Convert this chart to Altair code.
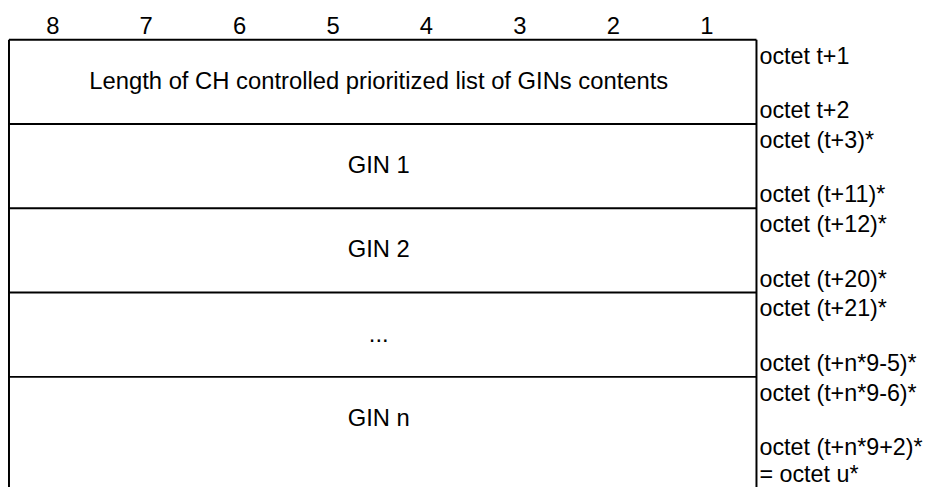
import altair as alt
import pandas as pd

# ---- content ----
bit_labels = ["8", "7", "6", "5", "4", "3", "2", "1"]
field_labels = [
    "Length of CH controlled prioritized list of GINs contents",
    "GIN 1",
    "GIN 2",
    "...",
    "GIN n",
]
octet_labels = [
    ["octet t+1", "octet t+2"],
    ["octet (t+3)*", "octet (t+11)*"],
    ["octet (t+12)*", "octet (t+20)*"],
    ["octet (t+21)*", "octet (t+n*9-5)*"],
    ["octet (t+n*9-6)*", "octet (t+n*9+2)*", "= octet u*"],
]

# ---- layout helpers ----
n_bits = len(bit_labels)
n_rows = len(field_labels)
sub_offsets = [0.2, 0.847, 1.165]   # vertical place of octet labels within a row
FONT = "Liberation Sans"
FS = 24.0
FS_OCT = 23.5

bits_df = pd.DataFrame({"x": [i + 0.5 for i in range(n_bits)], "y": [-0.153] * n_bits, "label": bit_labels})
fields_df = pd.DataFrame({"x": [n_bits / 2] * n_rows, "y": [r + 0.5 for r in range(n_rows)], "label": field_labels})
oct_rows = []
for r, labs in enumerate(octet_labels):
    for k, lab in enumerate(labs):
        oct_rows.append({"x": n_bits, "y": r + sub_offsets[k], "label": lab})
oct_df = pd.DataFrame(oct_rows)
h_df = pd.DataFrame({"x": [0] * n_rows, "x2": [n_bits] * n_rows, "y": list(range(n_rows))})
v_df = pd.DataFrame({"x": [0, n_bits], "y": [0, 0], "y2": [n_rows + 0.35, n_rows + 0.35]})

xs = alt.Scale(domain=[0, n_bits], range=[1, 755])
ys = alt.Scale(domain=[0, n_rows], range=[30, 30 + 85 * n_rows])

X = lambda f="x": alt.X(f"{f}:Q", scale=xs, axis=None)
Y = lambda f="y": alt.Y(f"{f}:Q", scale=ys, axis=None)

hlines = alt.Chart(h_df).mark_rule(color="black", strokeWidth=2).encode(
    x=X(), x2="x2:Q", y=Y()
)
vlines = alt.Chart(v_df).mark_rule(color="black", strokeWidth=2).encode(
    x=X(), y=Y(), y2="y2:Q"
)
bits = alt.Chart(bits_df).mark_text(font=FONT, fontSize=FS, baseline="middle", align="center", dx=-3, color="black").encode(
    x=X(), y=Y(), text="label:N"
)
fields = alt.Chart(fields_df).mark_text(font=FONT, fontSize=FS, baseline="middle", align="center", dx=-4, color="black").encode(
    x=X(), y=Y(), text="label:N"
)
octs = alt.Chart(oct_df).mark_text(font=FONT, fontSize=FS_OCT, baseline="middle", align="left", dx=3, color="black").encode(
    x=X(), y=Y(), text="label:N"
)

chart = alt.layer(hlines, vlines, bits, fields, octs).properties(
    width=926, height=479, autosize=alt.AutoSizeParams(type="none"), padding=0, background="white"
).configure_view(stroke=None)

chart.save("out.html", embed_options={"renderer": "svg", "actions": False})
